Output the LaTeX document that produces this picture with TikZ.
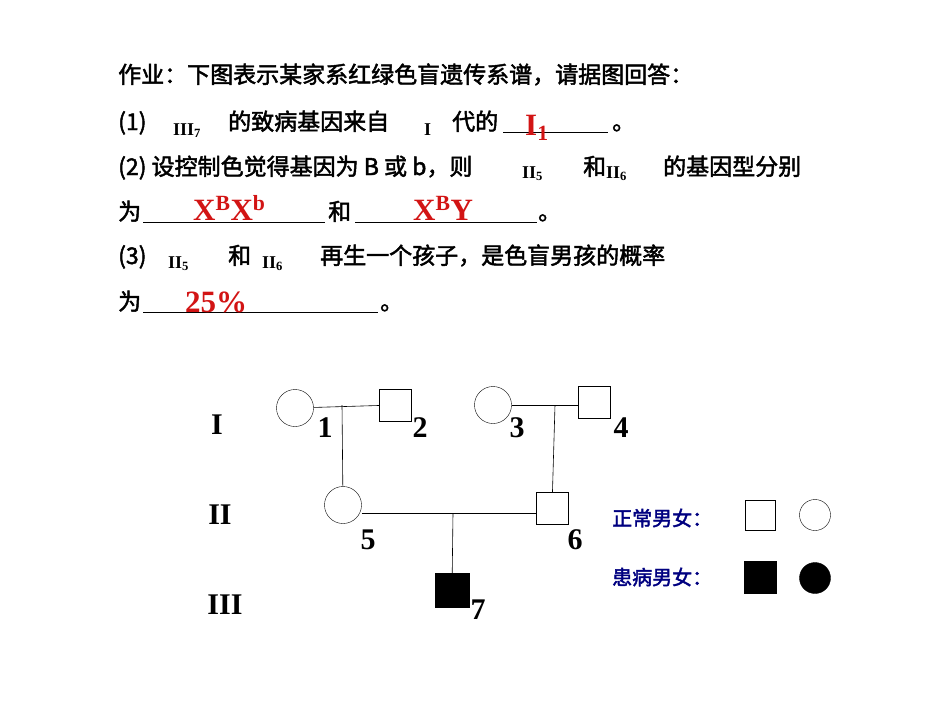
\documentclass[tikz,border=0pt]{standalone}
\usepackage{fontspec}
\setmainfont{Liberation Serif}
\newfontfamily\cjk[FakeBold=2]{Noto Sans CJK SC}
\usetikzlibrary{positioning}
\definecolor{legendblue}{RGB}{0,0,128}
\definecolor{ansred}{RGB}{210,20,20}
\tikzset{
  txt/.style={anchor=base west, inner sep=0pt, font=\cjk\fontsize{23}{26}\selectfont},
  sym/.style={anchor=base west, inner sep=0pt, font=\bfseries\fontsize{18}{20}\selectfont},
  ans/.style={anchor=base west, inner sep=0pt, text=ansred, font=\bfseries\fontsize{31}{32}\selectfont},
  num/.style={inner sep=0pt, font=\bfseries\fontsize{30}{32}\selectfont},
  male/.style={draw, minimum size=32pt, inner sep=0pt, fill=white},
  female/.style={draw, circle, minimum size=37pt, inner sep=0pt, fill=white},
  line/.style={line width=0.6pt}
}
\begin{document}
\begin{tikzpicture}[x=1pt,y=-1pt]
\useasboundingbox (0,0) rectangle (950,713);
% question text
\node[txt] (q1) at (118,83) {作业：下图表示某家系红绿色盲遗传系谱，请据图回答：};
\node[txt] (q2a) at (118,130) {(1)};
\node[sym] (q2b) at (173,135) {III\textsubscript{7}};
\node[txt] (q2c) at (228,130) {的致病基因来自};
\node[sym] (q2d) at (424,135) {I};
\node[txt] (q2e) at (452,130) {代的};
\draw[line] (503,132) -- (608,132);
\node[ans] (a1) at (525,135) {I\textsubscript{1}};
\node[txt] (q2f) at (612,130) {。};
\node[txt] (q3a) at (118,175) {(2) 设控制色觉得基因为 B 或 b，则};
\node[sym] (q3b) at (522,178) {II\textsubscript{5}};
\node[txt] (q3c) at (583,175) {和};
\node[sym] (q3d) at (606,178) {II\textsubscript{6}};
\node[txt] (q3e) at (663,175) {的基因型分别};
\node[txt] (q4a) at (118,220) {为};
\draw[line] (143,222) -- (325,222);
\node[ans] (a2) at (193,220) {X\textsuperscript{B}X\textsuperscript{b}};
\node[txt] (q4b) at (328,220) {和};
\draw[line] (355,222) -- (537,222);
\node[ans] (a3) at (413,220) {X\textsuperscript{B}Y};
\node[txt] (q4c) at (538,220) {。};
\node[txt] (q5a) at (118,264) {(3)};
\node[sym] (q5b) at (168,268) {II\textsubscript{5}};
\node[txt] (q5c) at (228,264) {和};
\node[sym] (q5d) at (262,268) {II\textsubscript{6}};
\node[txt] (q5e) at (320,264) {再生一个孩子，是色盲男孩的概率};
\node[txt] (q6a) at (118,310) {为};
\draw[line] (143,312) -- (378,312);
\node[ans] (a4) at (185,312) {25\%};
\node[txt] (q6b) at (380,310) {。};
% pedigree
\node[female] (i1) at (295,408) {};
\node[male] (i2) at (395,405) {};
\node[female] (i3) at (493,405) {};
\node[male] (i4) at (594,402) {};
\node[female] (ii5) at (343,505) {};
\node[male] (ii6) at (552,508) {};
\node[male, fill=black, minimum size=34pt] (iii7) at (452,590) {};
\coordinate (m1) at (342,405);
\coordinate (m2) at (555,405);
\coordinate (m3) at (453,513);
\draw[line] (i1) -- (i2);
\draw[line] (i3) -- (i4.west|-i3);
\draw[line] (m1) -- (ii5);
\draw[line] (m2) -- (ii6);
\draw[line] (ii5.east|-m3) -- (ii6.west|-m3);
\draw[line] (m3) -- (iii7);
\node[num] (n1) at (325,428) {1};
\node[num] (n2) at (420,428) {2};
\node[num] (n3) at (517,428) {3};
\node[num] (n4) at (621,428) {4};
\node[num] (n5) at (368,540) {5};
\node[num] (n6) at (575,540) {6};
\node[num] (n7) at (478,610) {7};
\node[num] (g1) at (217,425) {I};
\node[num] (g2) at (220,515) {II};
\node[num] (g3) at (225,605) {III};
% legend
\node[txt, anchor=west, text=legendblue, font=\cjk\fontsize{20}{24}\selectfont] (l1) at (612,518) {正常男女：};
\node[male, minimum size=30pt] (l1m) at (760,515) {};
\node[female, minimum size=31pt] (l1f) at (815,515) {};
\node[txt, anchor=west, text=legendblue, font=\cjk\fontsize{20}{24}\selectfont] (l2) at (612,577) {患病男女：};
\node[male, fill=black, minimum size=32pt] (l2m) at (760,577) {};
\node[female, fill=black, minimum size=31pt] (l2f) at (815,578) {};
\end{tikzpicture}
\end{document}
